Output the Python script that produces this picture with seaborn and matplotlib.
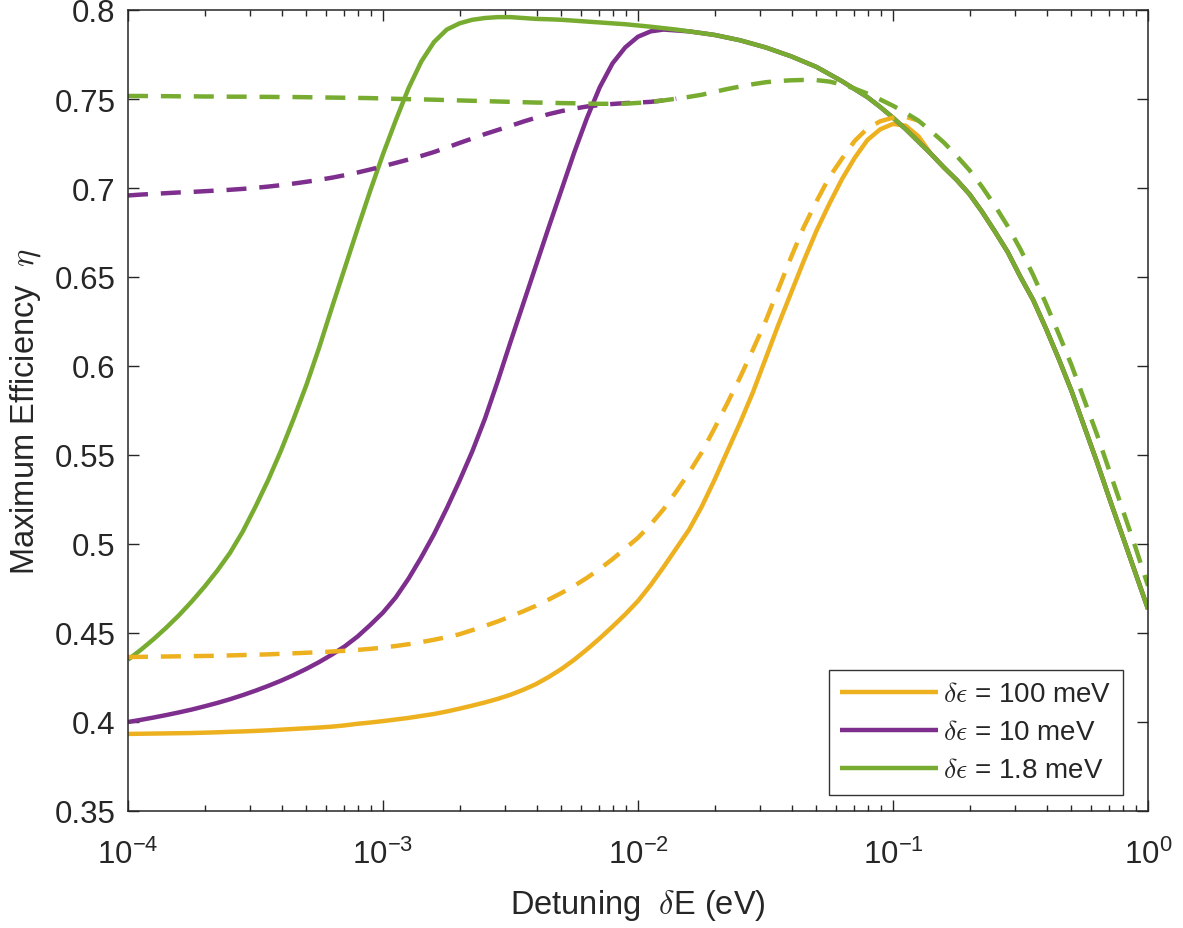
import numpy as np
import pandas as pd
import matplotlib
matplotlib.use("Agg")
import matplotlib.pyplot as plt
import seaborn as sns
from matplotlib.ticker import FixedLocator, FuncFormatter, LogLocator

# ---- data ----
detuning_exp = [-4.00, -3.95, -3.90, -3.85, -3.80, -3.75, -3.70, -3.65, -3.60, -3.55,
                -3.50, -3.45, -3.40, -3.35, -3.30, -3.25, -3.20, -3.15, -3.10, -3.05,
                -3.00, -2.95, -2.90, -2.85, -2.80, -2.75, -2.70, -2.65, -2.60, -2.55,
                -2.50, -2.45, -2.40, -2.35, -2.30, -2.25, -2.20, -2.15, -2.10, -2.05,
                -2.00, -1.95, -1.90, -1.85, -1.80, -1.75, -1.70, -1.65, -1.60, -1.55,
                -1.50, -1.45, -1.40, -1.35, -1.30, -1.25, -1.20, -1.15, -1.10, -1.05,
                -1.00, -0.95, -0.90, -0.85, -0.80, -0.75, -0.70, -0.65, -0.60, -0.55,
                -0.50, -0.45, -0.40, -0.35, -0.30, -0.25, -0.20, -0.15, -0.10, -0.05, 0.00]
detuning = [10.0 ** e for e in detuning_exp]

# solid curves (delta eps = 1.8 meV over the full range)
eta_1p8_solid = [0.4350, 0.4405, 0.4465, 0.4530, 0.4600, 0.4677, 0.4760, 0.4850, 0.4950, 0.5070,
                 0.5210, 0.5360, 0.5525, 0.5705, 0.5895, 0.6105, 0.6330, 0.6550, 0.6770, 0.6985,
                 0.7190, 0.7380, 0.7560, 0.7710, 0.7820, 0.7890, 0.7925, 0.7945, 0.7955, 0.7960,
                 0.7960, 0.7955, 0.7950, 0.7948, 0.7945, 0.7940, 0.7935, 0.7930, 0.7925, 0.7920,
                 0.7913, 0.7906, 0.7898, 0.7890, 0.7880, 0.7870, 0.7860, 0.7845, 0.7830, 0.7810,
                 0.7790, 0.7765, 0.7740, 0.7710, 0.7680, 0.7640, 0.7600, 0.7555, 0.7510, 0.7455,
                 0.7395, 0.7330, 0.7260, 0.7190, 0.7115, 0.7045, 0.6965, 0.6865, 0.6755, 0.6640,
                 0.6500, 0.6370, 0.6210, 0.6040, 0.5860, 0.5660, 0.5460, 0.5250, 0.5045, 0.4840, 0.4635]
# 10 meV: own values up to 10^-1.85, then identical to the 1.8 meV curve
eta_10_solid_head = [0.4000, 0.4012, 0.4025, 0.4039, 0.4054, 0.4070, 0.4088, 0.4107, 0.4128, 0.4151,
                     0.4176, 0.4203, 0.4232, 0.4264, 0.4299, 0.4337, 0.4379, 0.4425, 0.4480, 0.4545,
                     0.4615, 0.4700, 0.4805, 0.4925, 0.5055, 0.5200, 0.5355, 0.5520, 0.5705, 0.5915,
                     0.6135, 0.6350, 0.6565, 0.6780, 0.6990, 0.7200, 0.7394, 0.7566, 0.7700, 0.7790,
                     0.7850, 0.7880, 0.7890, 0.7885]
# 100 meV: own values up to 10^-0.9, then identical to the 1.8 meV curve
eta_100_solid_head = [0.3933, 0.3934, 0.3935, 0.3936, 0.3937, 0.3938, 0.3940, 0.3942, 0.3945, 0.3947,
                      0.3950, 0.3953, 0.3957, 0.3961, 0.3965, 0.3969, 0.3974, 0.3981, 0.3990, 0.3997,
                      0.4005, 0.4014, 0.4023, 0.4034, 0.4045, 0.4059, 0.4075, 0.4092, 0.4110, 0.4130,
                      0.4153, 0.4181, 0.4213, 0.4253, 0.4298, 0.4350, 0.4408, 0.4470, 0.4536, 0.4605,
                      0.4680, 0.4770, 0.4870, 0.4975, 0.5080, 0.5210, 0.5360, 0.5520, 0.5680, 0.5850,
                      0.6040, 0.6230, 0.6410, 0.6590, 0.6760, 0.6910, 0.7050, 0.7170, 0.7270, 0.7330,
                      0.7360, 0.7350, 0.7290]

# dashed curves
eta_1p8_dash = [0.7517, 0.7517, 0.7516, 0.7516, 0.7515, 0.7515, 0.7514, 0.7514, 0.7513, 0.7513,
                0.7512, 0.7512, 0.7511, 0.7511, 0.7510, 0.7509, 0.7508, 0.7507, 0.7506, 0.7505,
                0.7503, 0.7501, 0.7499, 0.7498, 0.7496, 0.7494, 0.7492, 0.7490, 0.7488, 0.7486,
                0.7484, 0.7482, 0.7480, 0.7479, 0.7477, 0.7476, 0.7474, 0.7473, 0.7473, 0.7474,
                0.7478, 0.7484, 0.7492, 0.7502, 0.7512, 0.7524, 0.7540, 0.7556, 0.7570, 0.7583,
                0.7594, 0.7601, 0.7605, 0.7607, 0.7606, 0.7598, 0.7582, 0.7558, 0.7530, 0.7497,
                0.7462, 0.7422, 0.7378, 0.7318, 0.7255, 0.7180, 0.7100, 0.7005, 0.6900, 0.6785,
                0.6655, 0.6510, 0.6350, 0.6180, 0.6005, 0.5810, 0.5615, 0.5405, 0.5195, 0.4985, 0.4765]
eta_10_dash_head = [0.6958, 0.6963, 0.6967, 0.6971, 0.6975, 0.6978, 0.6982, 0.6986, 0.6990, 0.6995,
                    0.7001, 0.7008, 0.7016, 0.7025, 0.7035, 0.7046, 0.7058, 0.7072, 0.7087, 0.7104,
                    0.7122, 0.7141, 0.7160, 0.7180, 0.7202, 0.7227, 0.7253, 0.7278, 0.7303, 0.7326,
                    0.7349, 0.7373, 0.7395, 0.7415, 0.7432, 0.7446, 0.7458, 0.7466, 0.7472, 0.7477,
                    0.7480, 0.7484, 0.7492]
eta_100_dash_head = [0.4365, 0.4366, 0.4367, 0.4368, 0.4369, 0.4370, 0.4371, 0.4372, 0.4374, 0.4376,
                     0.4378, 0.4380, 0.4383, 0.4386, 0.4389, 0.4392, 0.4396, 0.4400, 0.4405, 0.4411,
                     0.4418, 0.4427, 0.4437, 0.4449, 0.4462, 0.4477, 0.4493, 0.4516, 0.4540, 0.4565,
                     0.4593, 0.4622, 0.4653, 0.4688, 0.4725, 0.4765, 0.4810, 0.4860, 0.4915, 0.4975,
                     0.5035, 0.5110, 0.5195, 0.5295, 0.5400, 0.5515, 0.5650, 0.5790, 0.5935, 0.6090,
                     0.6250, 0.6430, 0.6610, 0.6780, 0.6925, 0.7060, 0.7165, 0.7265, 0.7335, 0.7375,
                     0.7395, 0.7400]

eta_10_solid = eta_10_solid_head + eta_1p8_solid[len(eta_10_solid_head):]
eta_100_solid = eta_100_solid_head + eta_1p8_solid[len(eta_100_solid_head):]

labels = [r"$\delta\epsilon$ = 100 meV", r"$\delta\epsilon$ = 10 meV", r"$\delta\epsilon$ = 1.8 meV"]
colors = ["#EDB120", "#7E2F8E", "#77AC30"]
y_ticks = [0.35, 0.4, 0.45, 0.5, 0.55, 0.6, 0.65, 0.7, 0.75, 0.8]

# ---- style ----
sns.set_style("ticks")
plt.rcParams["font.family"] = ["Liberation Sans", "DejaVu Sans"]
plt.rcParams["mathtext.fontset"] = "cm"
plt.rcParams["axes.unicode_minus"] = False

fig = plt.figure(figsize=(11.83, 9.29), dpi=100)
ax = fig.add_axes([128 / 1183, 1 - 812 / 929, 1020 / 1183, 801 / 929])

lw = 3.2
solid_sets = [eta_100_solid, eta_10_solid, eta_1p8_solid]
for vals, c, lab in zip(solid_sets, colors, labels):
    df = pd.DataFrame({"x": detuning[:len(vals)], "y": vals})
    sns.lineplot(data=df, x="x", y="y", ax=ax, color=c, linewidth=lw, label=lab,
                 solid_capstyle="butt", solid_joinstyle="round", sort=False)

# dashed: the 100/10 meV curves merge into the 1.8 meV one (drawn on top)
dash_sets = [eta_100_dash_head + [eta_1p8_dash[len(eta_100_dash_head)]],
             eta_10_dash_head + [eta_1p8_dash[len(eta_10_dash_head)]],
             eta_1p8_dash]
for vals, c in zip(dash_sets, colors):
    df = pd.DataFrame({"x": detuning[:len(vals)], "y": vals})
    sns.lineplot(data=df, x="x", y="y", ax=ax, color=c, linewidth=lw, legend=False, sort=False)
    ln = ax.lines[-1]
    ln.set_dashes((4.5, 2.9))
    ln.set_dash_capstyle("butt")
    ln.set_dash_joinstyle("round")

ax.set_xscale("log")
ax.set_xlim(1e-4, 1.0)
ax.set_ylim(0.35, 0.8)
ax.yaxis.set_major_locator(FixedLocator(y_ticks))
ax.yaxis.set_major_formatter(FuncFormatter(lambda v, p: "%g" % v))
ax.xaxis.set_major_locator(LogLocator(base=10, numticks=10))
ax.xaxis.set_minor_locator(LogLocator(base=10, subs=np.arange(2, 10), numticks=20))

edge = "#262626"
for s in ax.spines.values():
    s.set_visible(True)
    s.set_color(edge)
    s.set_linewidth(1.1)
ax.tick_params(axis="both", which="major", direction="in", length=8, width=1.0,
               top=True, right=True, labelsize=22.5, colors=edge)
ax.tick_params(axis="both", which="minor", direction="in", length=4, width=1.0,
               top=True, right=True, colors=edge)
ax.tick_params(axis="y", which="major", pad=9)
ax.tick_params(axis="x", which="major", pad=20)

ax.set_xlabel(r"Detuning  $\delta$E (eV)", fontsize=23.5, color=edge, labelpad=12)
ax.set_ylabel(r"Maximum Efficiency  $\eta$", fontsize=23.5, color=edge, labelpad=8)

leg = ax.legend(loc="lower right", bbox_to_anchor=(0.9755, 0.02), borderaxespad=0,
                fontsize=20, frameon=True, fancybox=False, edgecolor="black",
                handlelength=3.5, handletextpad=0.2, borderpad=0.42, labelspacing=0.43)
leg.get_frame().set_linewidth(1.0)
for h in leg.get_lines():
    h.set_linewidth(lw)

fig.savefig("out.png", dpi=100, facecolor="white")
